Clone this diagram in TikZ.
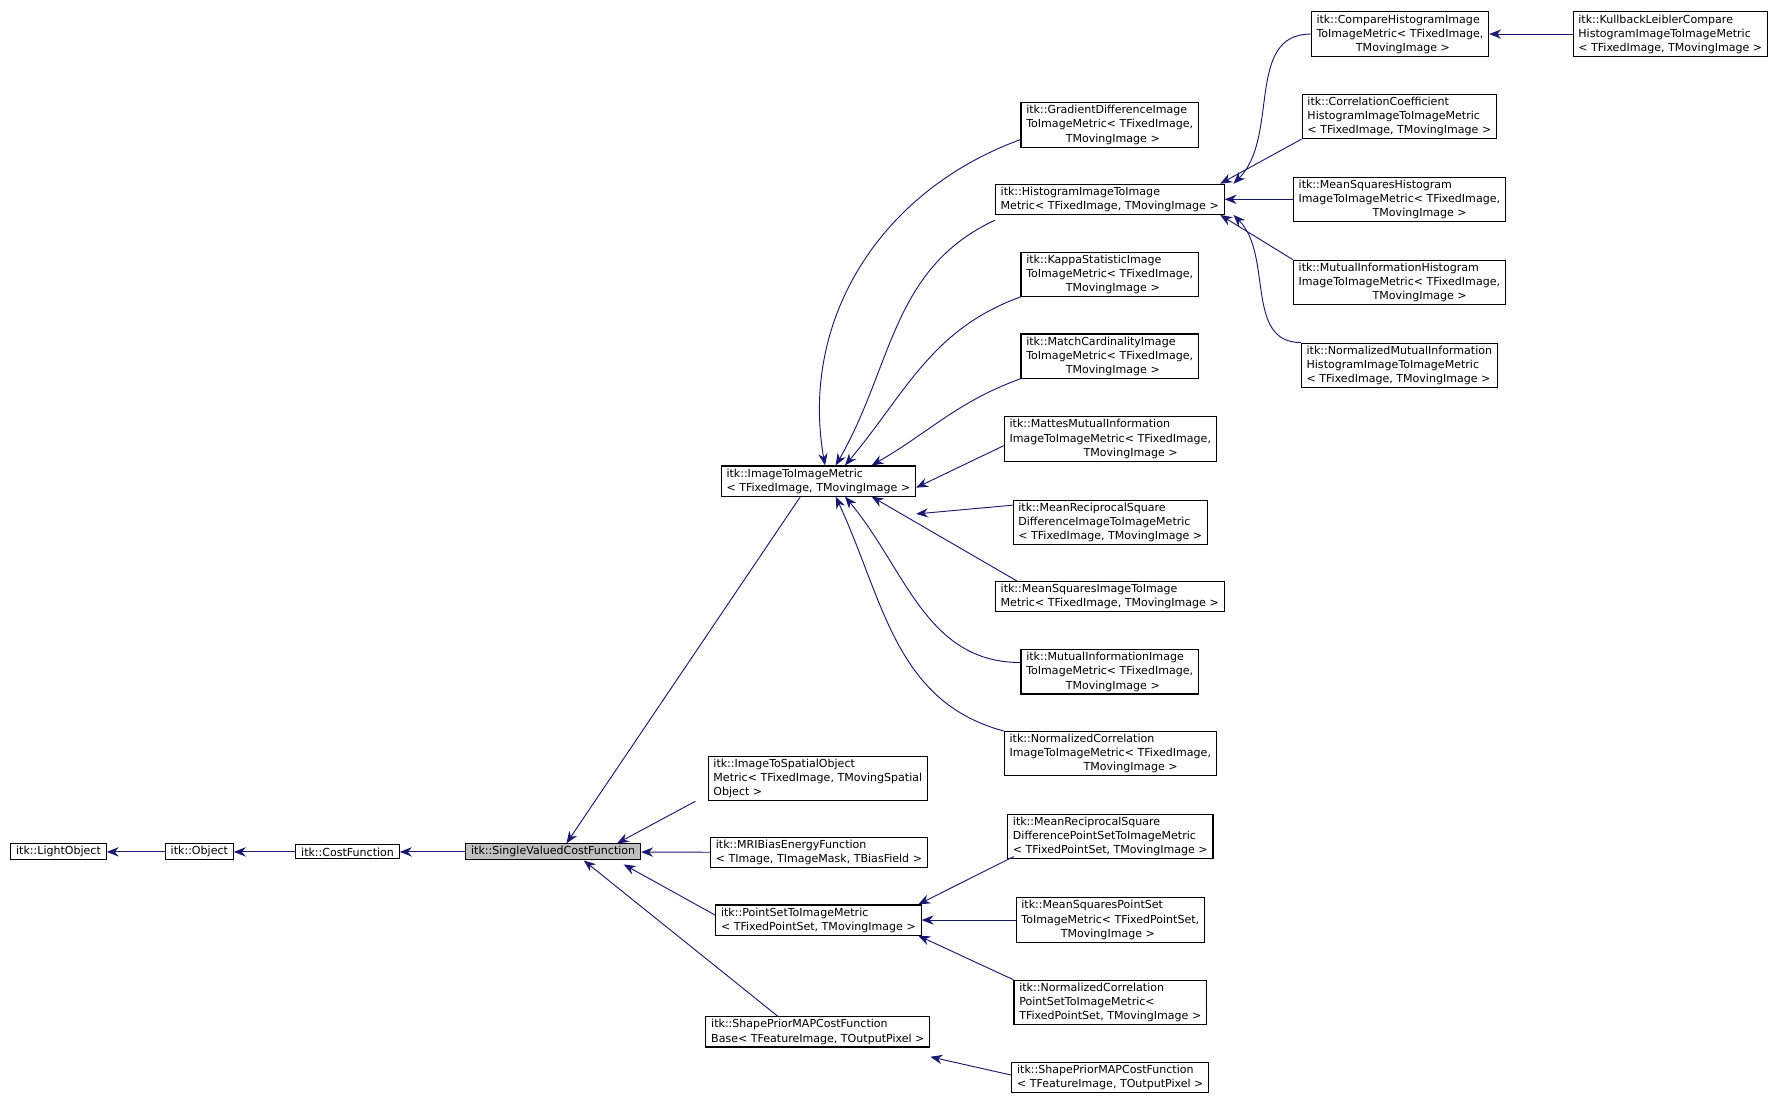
\documentclass[tikz,border=0pt]{standalone}
\usepackage{fontspec}
\setmainfont{DejaVu Sans}
\usetikzlibrary{arrows.meta}
\definecolor{edgeblue}{RGB}{25,25,112}
\tikzset{
  cls/.style={draw=black,line width=0.8pt,fill=white,align=left,inner xsep=4pt,inner ysep=2pt,
    font=\fontsize{8.3}{10.6}\selectfont},
  base/.style={cls,fill=black!25},
  edge/.style={draw=edgeblue,line width=0.7pt,{Stealth[length=9pt,width=7pt]}-},
}
\begin{document}
\begin{tikzpicture}[x=0.03cm,y=-0.03cm]
  \useasboundingbox[fill=white] (0,0) rectangle (1568,972);
  % base chain
  \node[cls] (light) at (51.5,750) {itk::LightObject};
  \node[cls] (obj) at (175.5,750) {itk::Object};
  \node[cls] (cost) at (306,750) {itk::CostFunction};
  \node[base] (svcf) at (487,750) {itk::SingleValuedCostFunction};
  % second column
  \node[cls] (iti) at (720.5,423.5) {itk::ImageToImageMetric\\< TFixedImage, TMovingImage >};
  \node[cls] (itso) at (720,685.5) {itk::ImageToSpatialObject\\Metric< TFixedImage, TMovingSpatial\\Object >};
  \node[cls] (mri) at (721,750.5) {itk::MRIBiasEnergyFunction\\< TImage, TImageMask, TBiasField >};
  \node[cls] (psti) at (720.5,810) {itk::PointSetToImageMetric\\< TFixedPointSet, TMovingImage >};
  \node[cls] (spbase) at (720,908.5) {itk::ShapePriorMAPCostFunction\\Base< TFeatureImage, TOutputPixel >};
  % third column
  \node[cls] (grad) at (977,110) {itk::GradientDifferenceImage\\ToImageMetric< TFixedImage,\\\hphantom{ToImag}TMovingImage >};
  \node[cls] (hist) at (977,175.5) {itk::HistogramImageToImage\\Metric< TFixedImage, TMovingImage >};
  \node[cls] (kappa) at (977,241.5) {itk::KappaStatisticImage\\ToImageMetric< TFixedImage,\\\hphantom{ToImag}TMovingImage >};
  \node[cls] (match) at (977,313.5) {itk::MatchCardinalityImage\\ToImageMetric< TFixedImage,\\\hphantom{ToImag}TMovingImage >};
  \node[cls] (mattes) at (977.5,386.5) {itk::MattesMutualInformation\\ImageToImageMetric< TFixedImage,\\\hphantom{ImageToImag}TMovingImage >};
  \node[cls] (mrsd) at (977.5,460) {itk::MeanReciprocalSquare\\DifferenceImageToImageMetric\\< TFixedImage, TMovingImage >};
  \node[cls] (msq) at (977,525.5) {itk::MeanSquaresImageToImage\\Metric< TFixedImage, TMovingImage >};
  \node[cls] (mi) at (977,591.5) {itk::MutualInformationImage\\ToImageMetric< TFixedImage,\\\hphantom{ToImag}TMovingImage >};
  \node[cls] (nc) at (977.5,663.5) {itk::NormalizedCorrelation\\ImageToImageMetric< TFixedImage,\\\hphantom{ImageToImag}TMovingImage >};
  \node[cls] (mrsdps) at (977.5,736.5) {itk::MeanReciprocalSquare\\DifferencePointSetToImageMetric\\< TFixedPointSet, TMovingImage >};
  \node[cls] (msqps) at (977.5,810) {itk::MeanSquaresPointSet\\ToImageMetric< TFixedPointSet,\\\hphantom{ToImag}TMovingImage >};
  \node[cls] (ncps) at (977.5,882.5) {itk::NormalizedCorrelation\\PointSetToImageMetric<\\TFixedPointSet, TMovingImage >};
  \node[cls] (spmap) at (977.5,948.5) {itk::ShapePriorMAPCostFunction\\< TFeatureImage, TOutputPixel >};
  % fourth column
  \node[cls] (chist) at (1232.5,30) {itk::CompareHistogramImage\\ToImageMetric< TFixedImage,\\\hphantom{ToImag}TMovingImage >};
  \node[cls] (cc) at (1232,102.5) {itk::CorrelationCoefficient\\HistogramImageToImageMetric\\< TFixedImage, TMovingImage >};
  \node[cls] (msqh) at (1232,175.5) {itk::MeanSquaresHistogram\\ImageToImageMetric< TFixedImage,\\\hphantom{ImageToImag}TMovingImage >};
  \node[cls] (mih) at (1232,248.5) {itk::MutualInformationHistogram\\ImageToImageMetric< TFixedImage,\\\hphantom{ImageToImag}TMovingImage >};
  \node[cls] (nmih) at (1232,321.5) {itk::NormalizedMutualInformation\\HistogramImageToImageMetric\\< TFixedImage, TMovingImage >};
  \node[cls] (kl) at (1470.5,30) {itk::KullbackLeiblerCompare\\HistogramImageToImageMetric\\< TFixedImage, TMovingImage >};

  % inheritance edges
  \draw[edge] (light) -- (obj);
  \draw[edge] (obj) -- (cost);
  \draw[edge] (cost) -- (svcf);
  \draw[edge] ([xshift=10]svcf.north) -- ([xshift=-13.5]iti.south);
  \draw[edge] ([xshift=48]svcf.north) -- ([xshift=-92]itso.south);
  \draw[edge] (svcf) -- (mri);
  \draw[edge] ([xshift=53,yshift=-3]svcf.south) -- ([yshift=-8]psti.north west);
  \draw[edge] ([xshift=23]svcf.south) -- ([xshift=-30]spbase.north);
  % ImageToImageMetric
  \draw[edge] ([xshift=5]iti.north) to[out=100,in=200] ([yshift=6]grad.south west);
  \draw[edge] ([xshift=13]iti.north) to[out=60,in=205] ([yshift=-4]hist.south west);
  \draw[edge] ([xshift=20]iti.north) to[out=50,in=200] (kappa.south west);
  \draw[edge] ([xshift=40]iti.north) to[out=30,in=200] (match.south west);
  \draw[edge] ([yshift=-5]iti.east) -- ([yshift=-5]mattes.west);
  \draw[edge] ([yshift=-13]iti.south east) -- ([yshift=13]mrsd.west);
  \draw[edge] ([xshift=40]iti.south) -- ([xshift=17]msq.north west);
  \draw[edge] ([xshift=20]iti.south) to[out=-50,in=180] ([yshift=-10]mi.north west);
  \draw[edge] ([xshift=13]iti.south) to[out=-65,in=165] (nc.north west);
  % Histogram
  \draw[edge] ([xshift=93]hist.north) to[out=45,in=180] (chist.west);
  \draw[edge] ([xshift=83]hist.north) -- (cc.south west);
  \draw[edge] (hist) -- (msqh);
  \draw[edge] ([xshift=83]hist.south) -- (mih.north west);
  \draw[edge] ([xshift=93]hist.south) to[out=-45,in=180] (nmih.north west);
  \draw[edge] (chist) -- (kl);
  % PointSetToImageMetric
  \draw[edge] ([xshift=75]psti.north) -- ([xshift=5,yshift=2]mrsdps.south west);
  \draw[edge] (psti) -- (msqps);
  \draw[edge] ([xshift=75]psti.south) -- (ncps.north west);
  \draw[edge] ([yshift=-7]spbase.south east) -- ([yshift=-10]spmap.north west);
\end{tikzpicture}
\end{document}
